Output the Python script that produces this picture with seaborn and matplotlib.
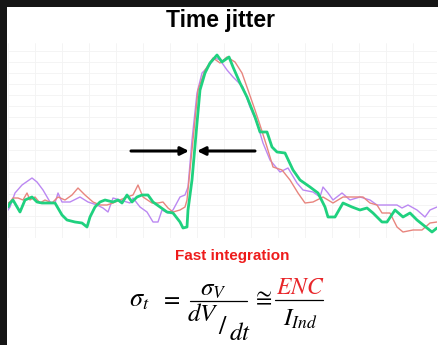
import matplotlib
matplotlib.use("Agg")
import matplotlib.pyplot as plt
import seaborn as sns
import numpy as np
import pandas as pd
from matplotlib.patches import Rectangle
from matplotlib.lines import Line2D

# traces (time in arbitrary units, amplitude in arbitrary units)
green_t = [8, 10, 13, 20, 25, 32, 37, 42, 50, 55, 62, 67, 75, 82, 87, 90, 95, 100, 105, 113,
           118, 122, 127, 132, 137, 142, 148, 153, 160, 167, 173, 180, 183, 187, 188, 192, 197, 200, 205, 210,
           217, 222, 229, 233, 240, 247, 255, 260, 267, 272, 277, 285, 293, 300, 310, 318, 325, 328, 335, 343,
           352, 360, 367, 373, 382, 387, 395, 403, 410, 417, 427, 432, 437]
green_v = [33, 37, 40, 28, 40, 43, 38, 37, 37, 37, 25, 20, 18, 17, 13, 23, 33, 38, 40, 38,
           40, 37, 45, 38, 43, 45, 45, 38, 33, 28, 27, 18, 12, 13, 30, 60, 117, 150, 167, 177,
           185, 178, 183, 173, 157, 143, 123, 108, 108, 93, 88, 87, 70, 60, 53, 47, 33, 23, 23, 37,
           33, 30, 32, 27, 18, 18, 30, 23, 27, 20, 12, 8, 12]

purple_t = [8, 10, 15, 22, 32, 37, 43, 50, 55, 58, 62, 70, 80, 88, 97, 103, 108, 113, 120, 130,
            133, 140, 147, 153, 158, 162, 168, 173, 180, 185, 188, 192, 197, 202, 208, 215, 220, 227, 233, 243,
            250, 257, 263, 270, 280, 288, 297, 303, 313, 320, 323, 328, 333, 342, 350, 360, 370, 377, 387, 397,
            402, 408, 417, 425, 430, 437]
purple_v = [30, 33, 47, 55, 62, 58, 50, 38, 37, 47, 38, 38, 43, 38, 35, 32, 28, 42, 40, 37,
            42, 33, 28, 18, 18, 30, 27, 30, 43, 45, 53, 100, 147, 167, 173, 182, 180, 170, 163, 153,
            133, 117, 97, 80, 68, 72, 57, 50, 48, 43, 53, 47, 40, 47, 40, 43, 40, 35, 35, 35,
            32, 35, 30, 23, 30, 33]

red_t = [8, 10, 13, 18, 23, 27, 30, 35, 40, 45, 52, 58, 65, 72, 78, 85, 93, 100, 107, 113,
         120, 127, 133, 138, 143, 152, 158, 163, 168, 173, 180, 185, 187, 190, 193, 198, 205, 213, 220, 227,
         235, 242, 248, 255, 260, 267, 273, 282, 290, 298, 305, 313, 323, 333, 343, 353, 363, 370, 377, 382,
         390, 397, 403, 413, 422, 430, 437]
red_v = [37, 38, 42, 42, 40, 47, 40, 43, 37, 40, 37, 43, 40, 45, 52, 45, 38, 35, 35, 37,
         40, 43, 45, 55, 43, 37, 37, 38, 32, 28, 30, 33, 40, 70, 100, 150, 170, 182, 177, 183,
         178, 167, 150, 130, 115, 93, 73, 70, 60, 47, 37, 38, 43, 37, 43, 43, 43, 37, 35, 27,
         27, 13, 8, 10, 10, 17, 18]

sns.set_style("white")
plt.rcParams['font.family'] = ['Liberation Sans', 'DejaVu Sans']
plt.rcParams['mathtext.fontset'] = 'stix'
plt.rcParams['text.color'] = 'black'

W, H = 439, 345
fig = plt.figure(figsize=(W / 100, H / 100), dpi=100)
fig.patch.set_facecolor('#151515')
fig.patches.append(Rectangle((7 / W, 0), 432 / W, 338 / H, transform=fig.transFigure,
                             facecolor='white', edgecolor='none', zorder=-5))


def fx(px):
    return px / W


def fy(py):
    return 1 - py / H


# signal panel
ax = fig.add_axes([fx(8), fy(238), 429 / W, 195 / H])
ax.set_facecolor('none')
ax.set_xlim(8, 437)
ax.set_ylim(2, 197)
ax.set_xticks(np.arange(8, 437, 27))
ax.set_yticks(np.arange(2, 197, 11))
ax.grid(True, color='#f3f3f3', lw=0.6)
ax.tick_params(length=0, labelbottom=False, labelleft=False)
for s in ax.spines.values():
    s.set_visible(False)

purple = pd.DataFrame({'t': purple_t, 'v': purple_v})
red = pd.DataFrame({'t': red_t, 'v': red_v})
green = pd.DataFrame({'t': green_t, 'v': green_v})
sns.lineplot(data=purple, x='t', y='v', ax=ax, color='#bb88f2', lw=1.0)
sns.lineplot(data=red, x='t', y='v', ax=ax, color='#e8857e', lw=1.0)
sns.lineplot(data=green, x='t', y='v', ax=ax, color='#1fd17f', lw=2.0)
ax.set_xlabel('')
ax.set_ylabel('')

arrow = dict(arrowstyle='-|>', lw=2.2, color='black', mutation_scale=12, shrinkA=0, shrinkB=0)
ax.annotate('', xy=(189, 89), xytext=(131, 89), arrowprops=arrow)
ax.annotate('', xy=(197, 89), xytext=(255, 89), arrowprops=arrow)

# texts
fig.text(fx(220), fy(20), 'Time jitter', ha='center', va='center', fontsize=16.5, fontweight='bold')
fig.text(fx(232), fy(256), 'Fast integration', ha='center', va='center', fontsize=11,
         fontweight='bold', color='#ee1c1c')

fs = 17
fig.text(fx(139), fy(300), r'$\sigma_t$', ha='center', va='center', fontsize=fs + 2)
fig.text(fx(170), fy(299), r'$=$', ha='center', va='center', fontsize=fs)
fig.text(fx(213), fy(289), r'$\sigma_V$', ha='center', va='center', fontsize=fs + 1)
fig.lines.append(Line2D([fx(190), fx(247)], [fy(301), fy(301)], transform=fig.transFigure,
                        color='black', lw=0.9))
fig.text(fx(203), fy(314), r'$dV$', ha='center', va='center', fontsize=fs + 1)
fig.text(fx(222.5), fy(327), r'$/$', ha='center', va='center', fontsize=fs + 2)
fig.text(fx(240), fy(333), r'$dt$', ha='center', va='center', fontsize=fs + 1)
fig.text(fx(262), fy(298), r'$\cong$', ha='center', va='center', fontsize=fs)
fig.text(fx(300), fy(288), r'$ENC$', ha='center', va='center', fontsize=fs, color='#e8262a')
fig.lines.append(Line2D([fx(275), fx(323)], [fy(300), fy(300)], transform=fig.transFigure,
                        color='black', lw=0.9))
fig.text(fx(300), fy(319), r'$I_{Ind}$', ha='center', va='center', fontsize=fs + 1)

fig.savefig('out.png', dpi=100, facecolor=fig.get_facecolor())
